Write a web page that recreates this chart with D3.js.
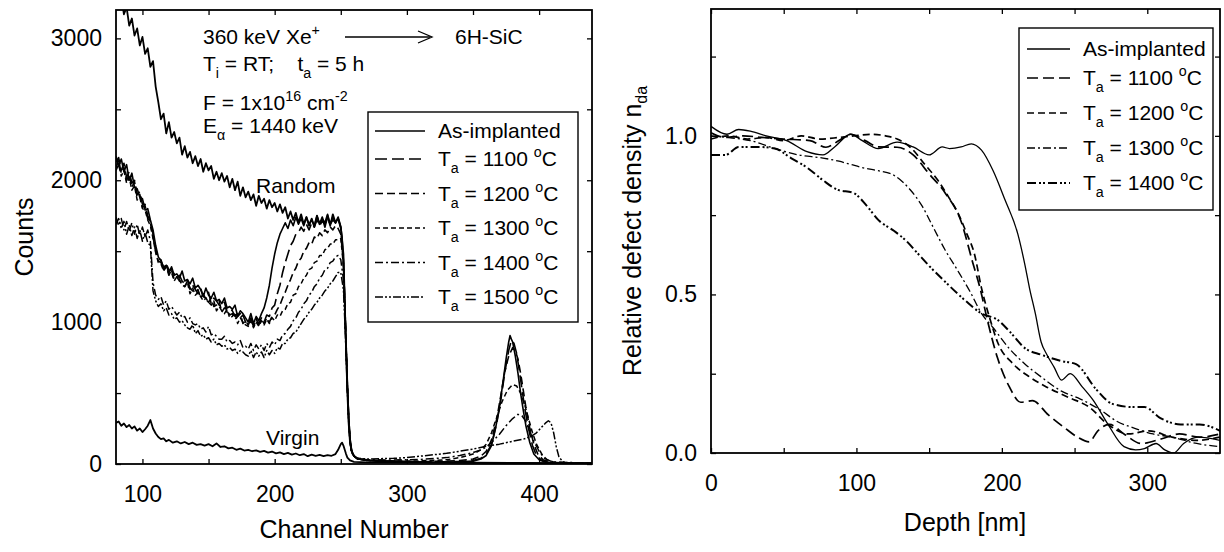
<!DOCTYPE html>
<html><head><meta charset="utf-8">
<script src="https://cdn.jsdelivr.net/npm/d3@7"></script>
<style>
body{margin:0;background:#fff;}
svg{display:block;font-family:"Liberation Sans",Arial,Helvetica,sans-serif;}
</style></head><body>
<svg id="c" width="1224" height="552"></svg>
<script>
// ---------------- LEFT PANEL DATA ----------------
const leftXTicks = [100, 150, 200, 250, 300, 350, 400];
const leftYTicks = [0, 500, 1000, 1500, 2000, 2500, 3000];
// channel sampling grid for the low-energy part of the spectra (80..250, every 2 channels)
const chanGrid = d3.range(80, 251, 2);

// counts read on chanGrid
const randomHead = [3400,3330,3290,3170,3220,3090,3140,3020,3070,2950,
  3010,2890,2930,2800,2840,2660,2550,2430,2470,2330,
  2410,2300,2340,2260,2300,2180,2240,2160,2200,2120,
  2170,2100,2150,2060,2120,2070,2100,2010,2060,2000,
  2050,1990,2030,1950,2010,1930,1990,1890,1950,1880,
  1920,1860,1900,1820,1890,1840,1870,1800,1860,1810,
  1840,1780,1830,1770,1810,1730,1780,1720,1770,1700,
  1760,1690,1740,1680,1730,1670,1750,1690,1740,1670,
  1750,1680,1760,1700,1740,1670];
const randomTail = [[252,1480],[253,1150],[254,800],[255,500],[256,280],[257,150],[259,70],[262,40],[270,25],[290,18],[320,12],[350,10],[380,8],[410,6],[440,5]];

const asImplHead = [2170,2100,2150,2060,2110,2000,2050,1950,1940,1880,
  1870,1790,1800,1720,1650,1540,1460,1430,1390,1400,
  1350,1390,1330,1340,1310,1360,1290,1300,1270,1310,
  1240,1260,1230,1180,1240,1190,1170,1210,1150,1160,
  1130,1170,1100,1110,1090,1120,1040,1080,1060,1030,
  1000,1060,990,1040,1010,1060,1100,1170,1260,1380,
  1480,1560,1620,1660,1700,1660,1720,1680,1740,1690,
  1730,1680,1740,1690,1720,1680,1750,1690,1730,1700,
  1760,1690,1740,1700,1730,1670];
const asImplTail = [[251,1600],[252,1420],[253,1150],[254,850],[255,560],[256,330],[257,180],[258,100],[260,55],[263,35],[270,25],[280,20],[290,18],[300,15],[320,12],[340,15],[350,20],[356,35],[360,60],[364,130],[367,250],[370,400],[373,600],[375,740],[377,860],[378,905],[379,880],[380,860],[382,760],[384,640],[386,500],[388,380],[390,270],[393,150],[396,70],[400,30],[405,12],[415,6],[440,5]];

const t1100Head = [2130,2160,2070,2120,2020,2060,1980,2000,1900,1920,
  1830,1830,1750,1710,1620,1510,1450,1440,1380,1410,
  1370,1360,1340,1310,1330,1290,1270,1300,1230,1260,
  1230,1200,1240,1180,1170,1210,1130,1170,1150,1120,
  1110,1140,1070,1090,1080,1040,1060,1030,1050,1000,
  990,1030,980,1020,990,1030,1000,1050,1040,1100,
  1120,1200,1260,1350,1420,1480,1540,1570,1620,1630,
  1670,1640,1690,1650,1700,1670,1720,1680,1710,1690,
  1730,1690,1720,1700,1730,1660];
const t1100Tail = [[252,1440],[253,1150],[254,860],[255,570],[256,330],[257,180],[258,100],[260,55],[263,35],[270,25],[280,20],[300,16],[320,14],[340,18],[350,25],[356,40],[360,70],[364,140],[368,290],[371,450],[374,640],[377,800],[379,870],[381,850],[383,780],[385,660],[387,530],[389,400],[392,250],[395,130],[398,60],[402,25],[408,10],[440,5]];

const t1200Head = [2090,2140,2050,2090,2000,2040,1950,1990,1880,1900,
  1810,1820,1730,1700,1600,1500,1430,1420,1370,1400,
  1330,1370,1300,1320,1290,1280,1250,1290,1240,1220,
  1210,1230,1170,1200,1160,1140,1170,1110,1120,1150,
  1070,1100,1090,1050,1060,1020,1040,1060,990,1010,
  980,1020,970,1010,980,1020,990,1030,1000,1040,
  1050,1090,1120,1170,1210,1260,1300,1350,1380,1430,
  1450,1500,1520,1560,1550,1600,1590,1630,1610,1650,
  1630,1670,1650,1680,1660,1620];
const t1200Tail = [[252,1420],[253,1140],[254,850],[255,560],[256,320],[257,170],[258,95],[260,55],[263,35],[270,25],[290,18],[310,16],[330,20],[340,25],[350,35],[356,55],[360,90],[364,170],[368,320],[371,480],[374,650],[377,760],[380,820],[382,800],[384,740],[386,640],[388,520],[390,400],[393,250],[396,140],[399,70],[403,30],[410,10],[440,5]];

const t1300Head = [2070,2110,2030,2070,1980,2020,1930,1960,1860,1880,
  1800,1790,1720,1680,1590,1490,1420,1410,1360,1390,
  1340,1350,1290,1320,1300,1260,1250,1280,1200,1240,
  1190,1210,1180,1150,1170,1140,1120,1150,1080,1110,
  1080,1060,1090,1030,1040,1070,990,1030,1000,980,
  970,1010,960,1000,970,1010,980,1020,990,1030,
  1010,1050,1040,1080,1090,1130,1140,1190,1200,1250,
  1270,1310,1330,1370,1380,1420,1430,1470,1470,1510,
  1520,1550,1550,1580,1580,1590];
const t1300Tail = [[252,1400],[253,1130],[254,840],[255,550],[256,310],[257,170],[258,95],[260,55],[263,35],[270,28],[290,22],[310,22],[330,30],[340,45],[350,70],[356,100],[360,140],[364,220],[368,330],[372,440],[376,520],[380,560],[383,550],[386,500],[389,420],[392,320],[395,220],[398,140],[402,70],[406,30],[412,10],[440,5]];

const t1400Head = [1740,1680,1730,1650,1710,1640,1700,1620,1690,1610,
  1670,1600,1650,1570,1280,1190,1160,1180,1120,1150,
  1090,1110,1080,1050,1070,1030,1040,1000,1030,990,
  980,990,950,960,930,970,910,920,900,880,
  880,900,860,870,850,860,840,870,820,830,
  810,850,800,840,810,840,800,850,820,860,
  840,880,870,910,920,950,970,1010,1030,1070,
  1090,1130,1150,1190,1210,1250,1270,1310,1330,1370,
  1380,1420,1430,1460,1470,1440];
const t1400Tail = [[252,1300],[253,1080],[254,820],[255,540],[256,300],[257,160],[258,90],[260,55],[263,38],[270,30],[290,28],[310,32],[330,45],[340,60],[350,80],[356,100],[360,120],[365,160],[370,210],[375,270],[380,320],[384,350],[387,340],[390,300],[393,230],[396,160],[400,90],[404,40],[410,15],[440,5]];

const t1500Head = [1690,1730,1660,1710,1620,1680,1610,1670,1590,1650,
  1570,1630,1560,1540,1220,1150,1110,1130,1080,1100,
  1050,1060,1020,1030,1000,1010,980,960,950,980,
  920,940,900,910,880,890,860,880,840,850,
  830,840,810,820,800,810,780,800,790,770,
  760,800,750,790,760,790,750,800,770,800,
  780,820,810,850,850,880,890,920,930,960,
  990,1020,1040,1070,1090,1120,1140,1170,1190,1220,
  1240,1270,1290,1320,1350,1350];
const t1500Tail = [[252,1230],[253,1020],[254,780],[255,510],[256,290],[257,150],[258,85],[260,55],[263,40],[270,35],[290,40],[300,45],[310,55],[320,65],[330,75],[340,90],[350,105],[360,125],[370,140],[380,160],[388,175],[394,195],[398,220],[402,260],[405,290],[407,305],[409,290],[411,220],[413,120],[415,50],[418,15],[425,6],[440,5]];

const virginSpec = [[80,290],[82,300],[84,270],[86,285],[88,260],[90,275],[92,250],[94,265],[96,235],[98,250],[100,225],[102,245],[104,270],[106,310],[107,280],[108,250],[110,215],[112,190],[114,175],[116,180],[118,160],[120,170],[123,150],[126,160],[129,145],[132,155],[135,140],[138,150],[141,135],[144,140],[147,130],[150,140],[153,125],[156,145],[159,120],[162,125],[165,110],[168,115],[171,100],[174,108],[177,95],[180,100],[183,90],[186,96],[189,85],[192,92],[195,80],[198,88],[201,75],[204,82],[207,70],[210,78],[213,66],[216,74],[219,62],[222,70],[225,55],[228,66],[231,58],[234,64],[237,55],[240,62],[243,58],[246,70],[248,100],[250,140],[251,150],[252,130],[253,100],[254,70],[255,45],[257,25],[260,15],[270,12],[300,10],[350,8],[400,6],[440,5]];

const leftLegendLabels = ["As-implanted", "1100", "1200", "1300", "1400", "1500"];

// ---------------- RIGHT PANEL DATA: [depth nm, n_da] ----------------
const rightXTicks = [0, 50, 100, 150, 200, 250, 300];
const rightYTicks = [0, 0.25, 0.5, 0.75, 1.0, 1.25];

const ndaAsImpl = [[0,1.03],[11,1.005],[19,1.02],[27,1.015],[38,1.0],[52,0.985],[66,0.95],[77,0.94],[85,0.965],[96,1.005],[104,0.985],[115,0.96],[128,0.98],[139,0.965],[150,0.94],[159,0.965],[164,0.96],[172,0.965],[179,0.975],[186,0.955],[194,0.89],[202,0.80],[211,0.69],[216,0.59],[219,0.52],[223,0.44],[227,0.35],[231,0.31],[236,0.27],[241,0.23],[247,0.25],[255,0.21],[263,0.165],[273,0.09],[284,0.02],[292,0.01],[298,0.014],[306,0.03],[312,0.01],[318,0.0],[325,0.03],[335,0.05],[350,0.04]];
const nda1100 = [[0,1.01],[10,0.995],[22,1.0],[35,0.995],[50,0.99],[68,0.985],[79,0.964],[88,0.985],[96,1.005],[106,0.985],[115,0.965],[128,0.964],[139,0.94],[150,0.88],[161,0.82],[172,0.73],[180,0.6],[185,0.52],[190,0.42],[197,0.30],[205,0.21],[213,0.16],[221,0.165],[232,0.12],[243,0.08],[252,0.05],[260,0.035],[266,0.07],[274,0.09],[284,0.06],[296,0.03],[310,0.045],[322,0.06],[336,0.05],[350,0.06]];
const nda1200 = [[0,0.99],[12,1.0],[25,0.99],[38,0.995],[50,0.985],[62,1.0],[75,0.99],[88,0.995],[98,1.0],[110,1.005],[120,1.0],[128,0.99],[138,0.96],[147,0.91],[156,0.86],[163,0.81],[170,0.755],[176,0.69],[181,0.63],[186,0.52],[192,0.42],[197,0.35],[208,0.28],[219,0.24],[230,0.21],[246,0.175],[260,0.145],[273,0.09],[287,0.06],[301,0.07],[317,0.05],[334,0.04],[350,0.05]];
const nda1300 = [[0,1.0],[11,0.995],[27,0.985],[44,0.96],[60,0.94],[77,0.93],[88,0.92],[96,0.91],[104,0.9],[115,0.89],[126,0.875],[137,0.83],[145,0.78],[153,0.71],[161,0.64],[169,0.58],[178,0.51],[186,0.44],[194,0.395],[205,0.33],[216,0.28],[227,0.24],[241,0.195],[254,0.17],[268,0.135],[279,0.10],[290,0.08],[304,0.06],[317,0.05],[334,0.03],[350,0.02]];
const nda1400 = [[0,0.94],[10,0.94],[19,0.965],[33,0.965],[44,0.96],[55,0.93],[66,0.9],[77,0.86],[87,0.83],[98,0.82],[107,0.78],[115,0.735],[126,0.70],[134,0.67],[142,0.63],[150,0.59],[161,0.54],[175,0.48],[186,0.44],[197,0.42],[205,0.385],[216,0.33],[227,0.31],[241,0.29],[251,0.28],[265,0.2],[276,0.155],[290,0.145],[298,0.145],[309,0.11],[323,0.09],[336,0.09],[350,0.07]];

const rightLegendLabels = ["As-implanted", "1100", "1200", "1300", "1400"];

// ---------------- DRAWING ----------------
const svg = d3.select("#c");
const FONT_TICK = 23, FONT_TITLE = 25, FONT_TXT = 21;
const withTail = (head, tail) => chanGrid.map((c, i) => [c, head[i]]).concat(tail);

function panel(opts) {
  const {x, y, xMajor, yMajor, xTicks, yTicks, xFmt, yFmt, clipId} = opts;
  const g = svg.append("g");
  const [xa, xb] = x.range(), [ya, yb] = y.range();
  svg.append("clipPath").attr("id", clipId).append("rect")
    .attr("x", xa).attr("y", yb).attr("width", xb - xa).attr("height", ya - yb);
  const tick = 5;
  const style = sel => {
    sel.select(".domain").remove();
    sel.selectAll("line").attr("stroke", "#000").attr("stroke-width", 1.3);
    sel.selectAll("text").attr("font-size", FONT_TICK).attr("fill", "#000")
      .attr("font-family", "Liberation Sans, Arial, sans-serif");
  };
  g.append("g").attr("transform", `translate(0,${ya})`)
    .call(d3.axisBottom(x).tickValues(xTicks).tickSize(-tick).tickPadding(22)
      .tickFormat(d => xMajor(d) ? xFmt(d) : "")).call(style);
  g.append("g").attr("transform", `translate(0,${yb})`)
    .call(d3.axisTop(x).tickValues(xTicks).tickSize(-tick).tickFormat("")).call(style);
  g.append("g").attr("transform", `translate(${xa},0)`)
    .call(d3.axisLeft(y).tickValues(yTicks).tickSize(-tick).tickPadding(14)
      .tickFormat(d => yMajor(d) ? yFmt(d) : "")).call(style);
  g.append("g").attr("transform", `translate(${xb},0)`)
    .call(d3.axisRight(y).tickValues(yTicks).tickSize(-tick).tickFormat("")).call(style);
  g.append("rect").attr("x", xa).attr("y", yb).attr("width", xb - xa).attr("height", ya - yb)
    .attr("fill", "none").attr("stroke", "#000").attr("stroke-width", 1.8);
  return g;
}

// Left panel
const xL = d3.scaleLinear().domain([80, 440]).range([116, 592]);
const yL = d3.scaleLinear().domain([0, 3200]).range([464, 10]);
panel({x: xL, y: yL, xTicks: leftXTicks, yTicks: leftYTicks,
  xMajor: d => d % 100 === 0, yMajor: d => d % 1000 === 0,
  xFmt: d3.format("d"), yFmt: d3.format("d"), clipId: "clipL"});

const lineL = d3.line().x(d => xL(d[0])).y(d => yL(d[1]));
const leftSeries = [
  {data: withTail(randomHead, randomTail), dash: null, w: 1.8},
  {data: virginSpec, dash: null, w: 1.8},
  {data: withTail(t1500Head, t1500Tail), dash: "8,2,2,2,2,2", w: 1.5},
  {data: withTail(t1400Head, t1400Tail), dash: "8,3,2,3", w: 1.5},
  {data: withTail(t1300Head, t1300Tail), dash: "5,3", w: 1.5},
  {data: withTail(t1200Head, t1200Tail), dash: "8,4", w: 1.6},
  {data: withTail(t1100Head, t1100Tail), dash: "12,5", w: 1.6},
  {data: withTail(asImplHead, asImplTail), dash: null, w: 1.6}
];
const gL = svg.append("g").attr("clip-path", "url(#clipL)");
leftSeries.forEach(s => {
  gL.append("path").datum(s.data).attr("d", lineL).attr("fill", "none")
    .attr("stroke", "#000").attr("stroke-width", s.w).attr("stroke-linejoin", "round")
    .attr("stroke-dasharray", s.dash);
});

// Right panel
const xR = d3.scaleLinear().domain([0, 350]).range([711, 1220]);
const yR = d3.scaleLinear().domain([0, 1.4]).range([453, 9]);
panel({x: xR, y: yR, xTicks: rightXTicks, yTicks: rightYTicks,
  xMajor: d => d % 100 === 0, yMajor: d => Math.abs(d * 2 - Math.round(d * 2)) < 1e-9,
  xFmt: d3.format("d"), yFmt: d3.format(".1f"), clipId: "clipR"});
const lineR = d3.line().x(d => xR(d[0])).y(d => yR(d[1])).curve(d3.curveMonotoneX);
const rightSeries = [
  {data: ndaAsImpl, dash: null, w: 1.3},
  {data: nda1100, dash: "11,5", w: 1.7},
  {data: nda1200, dash: "7,4", w: 1.7},
  {data: nda1300, dash: "8,3,2,3", w: 1.3},
  {data: nda1400, dash: "9,3,2,2,2,3", w: 2.0}
];
const gR = svg.append("g").attr("clip-path", "url(#clipR)");
rightSeries.forEach(s => {
  gR.append("path").datum(s.data).attr("d", lineR).attr("fill", "none")
    .attr("stroke", "#000").attr("stroke-width", s.w).attr("stroke-dasharray", s.dash);
});

// Axis titles
svg.append("text").attr("transform", "translate(33,237) rotate(-90)")
  .attr("text-anchor", "middle").attr("font-size", FONT_TITLE).text("Counts");
svg.append("text").attr("x", 354).attr("y", 538).attr("text-anchor", "middle")
  .attr("font-size", FONT_TITLE).text("Channel Number");
svg.append("text").attr("x", 965).attr("y", 531).attr("text-anchor", "middle")
  .attr("font-size", FONT_TITLE).text("Depth [nm]");
const rt = svg.append("text").attr("transform", "translate(641,231) rotate(-90)")
  .attr("text-anchor", "middle").attr("font-size", FONT_TITLE);
rt.append("tspan").text("Relative defect density n");
rt.append("tspan").attr("font-size", 16).attr("dy", 6).text("da");

// Text helper: parts [text, 'sub'|'sup'|null]
function richText(x, y, parts, size) {
  const t = svg.append("text").attr("x", x).attr("y", y).attr("font-size", size)
    .style("white-space", "pre");
  let shift = 0;
  parts.forEach(([s, k]) => {
    const target = k === "sub" ? 7 : k === "sup" ? -9 : 0;
    const sp = t.append("tspan").attr("dy", target - shift).text(s);
    if (k) sp.attr("font-size", size * 0.68);
    shift = target;
  });
  return t;
}

// Annotations (left panel)
richText(203, 44, [["360 keV Xe", null], ["+", "sup"]], FONT_TXT);
svg.append("line").attr("x1", 345).attr("x2", 430).attr("y1", 37).attr("y2", 37)
  .attr("stroke", "#000").attr("stroke-width", 1.3);
svg.append("path").attr("d", "M418,31 L432,37 L418,43").attr("fill", "none")
  .attr("stroke", "#000").attr("stroke-width", 1.3);
richText(455, 44, [["6H-SiC", null]], FONT_TXT);
richText(203, 71, [["T", null], ["i", "sub"], [" = RT;    t", null], ["a", "sub"], [" = 5 h", null]], FONT_TXT);
richText(203, 110, [["F = 1x10", null], ["16", "sup"], [" cm", null], ["-2", "sup"]], FONT_TXT);
richText(203, 133, [["E", null], ["α", "sub"], [" = 1440 keV", null]], FONT_TXT);
richText(256, 193, [["Random", null]], FONT_TXT);
richText(266, 445, [["Virgin", null]], FONT_TXT);

// Legends
function legend(x0, y0, w, h, items, lineX1, lineX2, textX, firstY, gap1, gap) {
  svg.append("rect").attr("x", x0).attr("y", y0).attr("width", w).attr("height", h)
    .attr("fill", "#fff").attr("stroke", "#000").attr("stroke-width", 1.4);
  items.forEach((it, i) => {
    const yy = firstY + (i === 0 ? 0 : gap1 + (i - 1) * gap);
    svg.append("line").attr("x1", lineX1).attr("x2", lineX2).attr("y1", yy).attr("y2", yy)
      .attr("stroke", "#000").attr("stroke-width", it.w).attr("stroke-dasharray", it.dash);
    if (it.label === "As-implanted") {
      richText(textX, yy + 7, [["As-implanted", null]], FONT_TXT);
    } else {
      richText(textX, yy + 7, [["T", null], ["a", "sub"], [" = " + it.label + " ", null], ["o", "sup"], ["C", null]], FONT_TXT);
    }
  });
}
const leftStyles = [
  {dash: null, w: 1.4}, {dash: "12,5", w: 1.4}, {dash: "8,4", w: 1.4},
  {dash: "5,3", w: 1.4}, {dash: "8,3,2,3", w: 1.4}, {dash: "8,2,2,2,2,2", w: 1.4}];
legend(368, 112, 210, 210,
  leftLegendLabels.map((l, i) => ({label: l, ...leftStyles[i]})),
  375, 425, 438, 131, 28, 34.5);
const rightStyles = [
  {dash: null, w: 1.3}, {dash: "11,5", w: 1.7}, {dash: "7,4", w: 1.7},
  {dash: "8,3,2,3", w: 1.3}, {dash: "9,3,2,2,2,3", w: 2.0}];
legend(1019, 28, 194, 182,
  rightLegendLabels.map((l, i) => ({label: l, ...rightStyles[i]})),
  1027, 1070, 1083, 49, 29, 35);
</script></body></html>
